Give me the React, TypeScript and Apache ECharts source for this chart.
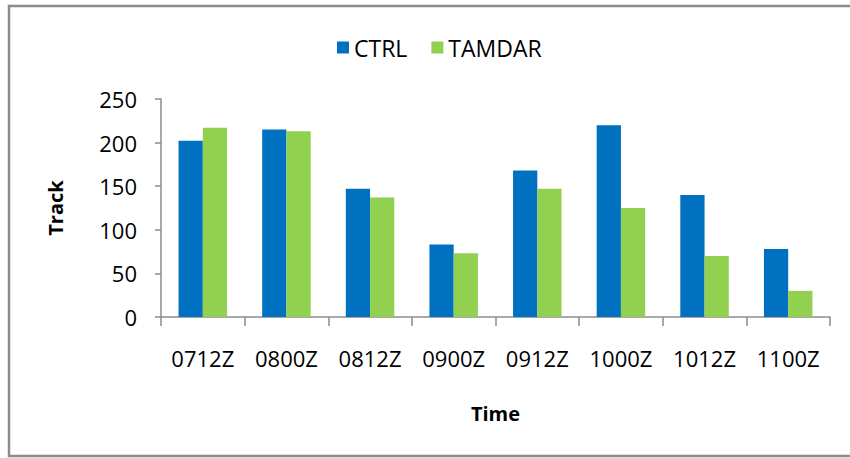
import React, { useEffect, useRef } from "react";
import * as echarts from "echarts";

const categories = ["0712Z", "0800Z", "0812Z", "0900Z", "0912Z", "1000Z", "1012Z", "1100Z"];
const ctrlValues = [202, 215, 147, 83, 168, 220, 140, 78];
const tamdarValues = [217, 213, 137, 73, 147, 125, 70, 30];
const yTicks = [0, 50, 100, 150, 200, 250];

export default function App() {
  const ref = useRef<HTMLDivElement>(null);
  useEffect(() => {
    if (!ref.current) return;
    const chart = echarts.init(ref.current, null, { renderer: "svg" });
    const font = "'Open Sans', 'DejaVu Sans', sans-serif";
    chart.setOption({
      animation: false,
      backgroundColor: "#ffffff",
      graphic: [
        {
          type: "rect",
          shape: { x: 9, y: 6, width: 850, height: 450 },
          style: { fill: "none", stroke: "#8c8c8c", lineWidth: 2.5 },
          silent: true,
        },
      ],
      legend: {
        top: 31,
        left: 332,
        itemWidth: 12,
        itemHeight: 12,
        itemGap: 24,
        icon: "rect",
        textStyle: { fontFamily: font, fontSize: 23, color: "#000" },
        data: ["CTRL", "TAMDAR"],
      },
      grid: { left: 161, right: 20, top: 99, bottom: 141, containLabel: false },
      xAxis: {
        type: "category",
        data: categories,
        name: "Time",
        nameLocation: "middle",
        nameGap: 86,
        nameTextStyle: { fontFamily: font, fontSize: 20, fontWeight: "bold", color: "#000" },
        axisLine: { lineStyle: { color: "#8c8c8c", width: 1.5 } },
        axisTick: { show: true, length: 9, lineStyle: { color: "#8c8c8c", width: 1.5 } },
        axisLabel: { fontFamily: font, fontSize: 22, color: "#000", margin: 30 },
      },
      yAxis: {
        type: "value",
        min: 0,
        max: 250,
        interval: 50,
        name: "Track",
        nameLocation: "middle",
        nameGap: 96,
        nameRotate: 90,
        nameTextStyle: { fontFamily: font, fontSize: 20, fontWeight: "bold", color: "#000" },
        axisLine: { show: true, lineStyle: { color: "#8c8c8c", width: 1.5 } },
        axisTick: { show: true, length: 6, lineStyle: { color: "#8c8c8c", width: 1.5 } },
        splitLine: { show: false },
        axisLabel: {
          fontFamily: font,
          fontSize: 22,
          color: "#000",
          margin: 24,
          formatter: (v: number) => (yTicks.includes(v) ? String(v) : ""),
        },
      },
      series: [
        {
          name: "CTRL",
          type: "bar",
          data: ctrlValues,
          itemStyle: { color: "#0070C0" },
          barGap: "0%",
          barCategoryGap: "42%",
        },
        {
          name: "TAMDAR",
          type: "bar",
          data: tamdarValues,
          itemStyle: { color: "#92D050" },
          barGap: "0%",
          barCategoryGap: "42%",
        },
      ],
    });
    return () => chart.dispose();
  }, []);
  return <div ref={ref} style={{ width: 850, height: 458, position: "absolute", left: 0, top: 0 }} />;
}
